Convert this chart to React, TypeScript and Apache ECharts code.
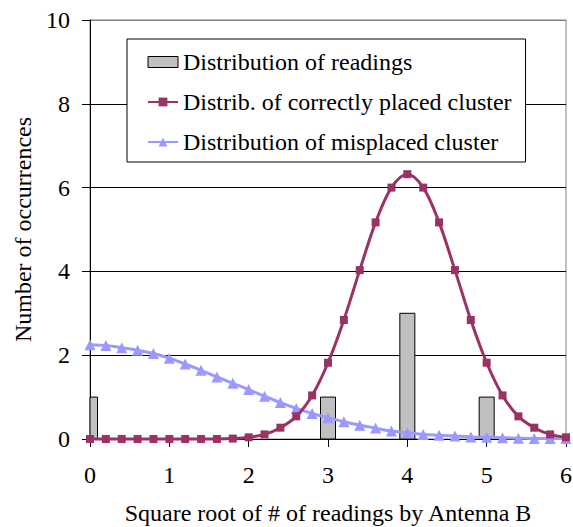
import React, { useEffect, useRef } from "react";
import * as echarts from "echarts";

const xValues = [
  0, 0.2, 0.4, 0.6, 0.8, 1.0, 1.2, 1.4, 1.6, 1.8, 2.0, 2.2, 2.4, 2.6, 2.8, 3.0,
  3.2, 3.4, 3.6, 3.8, 4.0, 4.2, 4.4, 4.6, 4.8, 5.0, 5.2, 5.4, 5.6, 5.8, 6.0,
];
const correctValues = [
  0, 0, 0, 0, 0, 0, 0, 0, 0, 0.01, 0.04, 0.11, 0.27, 0.54, 1.04, 1.82, 2.84,
  4.03, 5.17, 6.0, 6.32, 6.0, 5.17, 4.03, 2.84, 1.82, 1.04, 0.54, 0.27, 0.11,
  0.04,
];
const misplacedValues = [
  2.25, 2.23, 2.18, 2.12, 2.04, 1.93, 1.79, 1.64, 1.48, 1.33, 1.18, 1.02, 0.87,
  0.73, 0.61, 0.51, 0.41, 0.33, 0.26, 0.19, 0.15, 0.11, 0.09, 0.07, 0.05, 0.04,
  0.03, 0.02, 0.01, 0.01, 0.01,
];
const readingsX = [0, 3, 4, 5];
const readingsY = [1, 1, 3, 1];

const seriesNames = [
  "Distribution of readings",
  "Distrib. of correctly placed cluster",
  "Distribution of misplaced cluster",
];
const xAxisTitle = "Square root of # of readings by Antenna B";
const yAxisTitle = "Number of occurrences";

const FONT = "'Liberation Serif'";
const FS = 24;

export default function App() {
  const ref = useRef<HTMLDivElement>(null);
  useEffect(() => {
    if (!ref.current) return;
    const chart = echarts.init(ref.current, null, { renderer: "svg" });
    chart.setOption({
      animation: false,
      backgroundColor: "#ffffff",
      textStyle: { fontFamily: FONT, color: "#000" },
      grid: {
        left: 90,
        right: 7,
        top: 20,
        bottom: 88,
        containLabel: false,
        outerBoundsMode: "none",
        show: true,
        borderColor: "#808080",
        borderWidth: 1,
        backgroundColor: "transparent",
      },
      legend: {
        orient: "vertical",
        left: 127,
        top: 39,
        backgroundColor: "#fff",
        borderColor: "#000",
        borderWidth: 1,
        padding: [11, 14, 8, 20],
        itemGap: 16,
        itemWidth: 30,
        itemHeight: 11,
        textStyle: { fontFamily: FONT, fontSize: FS, color: "#000" },
        data: [
          {
            name: seriesNames[0],
            icon: "rect",
            itemStyle: { color: "#c0c0c0", borderColor: "#000", borderWidth: 1 },
          },
          { name: seriesNames[1] },
          { name: seriesNames[2] },
        ],
      },
      xAxis: {
        type: "value",
        min: 0,
        max: 6,
        interval: 1,
        axisLine: { show: true, onZero: false, lineStyle: { color: "#000", width: 1 } },
        axisTick: { show: true, length: 8, inside: false, lineStyle: { color: "#000" } },
        axisLabel: { fontFamily: FONT, fontSize: FS, color: "#000", margin: 24 },
        splitLine: { show: false },
        name: xAxisTitle,
        nameLocation: "middle",
        nameGap: 62,
        nameTextStyle: { fontFamily: FONT, fontSize: FS, color: "#000" },
      },
      yAxis: {
        type: "value",
        min: 0,
        max: 10,
        interval: 2,
        axisLine: { show: true, lineStyle: { color: "#000", width: 1 } },
        axisTick: { show: true, length: 8, inside: false, lineStyle: { color: "#000" } },
        axisLabel: { fontFamily: FONT, fontSize: FS, color: "#000", margin: 20 },
        splitLine: {
          show: true,
          lineStyle: {
            color: ["#000", "#000", "#000", "#000", "#000", "#808080"],
            width: 1,
          },
        },
        name: yAxisTitle,
        nameLocation: "middle",
        nameGap: 55,
        nameRotate: 90,
        nameTextStyle: { fontFamily: FONT, fontSize: FS, color: "#000" },
      },
      series: [
        {
          name: seriesNames[0],
          type: "custom",
          encode: { x: 0, y: 1 },
          itemStyle: { color: "#c0c0c0", borderColor: "#000", borderWidth: 1 },
          renderItem: (params: any, api: any) => {
            const x = api.value(0);
            const y = api.value(1);
            const p0 = api.coord([x, 0]);
            const p1 = api.coord([x, y]);
            const w = 15;
            const cs = params.coordSys;
            const shape = echarts.graphic.clipRectByRect(
              { x: p0[0] - w / 2, y: p1[1], width: w, height: p0[1] - p1[1] },
              { x: cs.x, y: cs.y, width: cs.width, height: cs.height }
            );
            if (!shape) return null;
            return {
              type: "rect",
              shape,
              style: { fill: "#c0c0c0", stroke: "#000", lineWidth: 1 },
            };
          },
          data: readingsX.map((x, i) => [x, readingsY[i]]),
          z: 1,
        },
        {
          name: seriesNames[1],
          type: "line",
          smooth: 0.35,
          symbol: "rect",
          symbolSize: 8,
          clip: false,
          lineStyle: { color: "#993366", width: 3 },
          itemStyle: { color: "#993366" },
          data: xValues.map((x, i) => [x, correctValues[i]]),
          z: 3,
        },
        {
          name: seriesNames[2],
          type: "line",
          smooth: 0.35,
          symbol: "triangle",
          symbolSize: 11,
          clip: false,
          lineStyle: { color: "#9999ff", width: 3 },
          itemStyle: { color: "#9999ff" },
          data: xValues.map((x, i) => [x, misplacedValues[i]]),
          z: 2,
        },
      ],
    });
    return () => chart.dispose();
  }, []);
  return (
    <div
      ref={ref}
      style={{ position: "fixed", left: 0, top: 0, width: 573, height: 527 }}
    />
  );
}
